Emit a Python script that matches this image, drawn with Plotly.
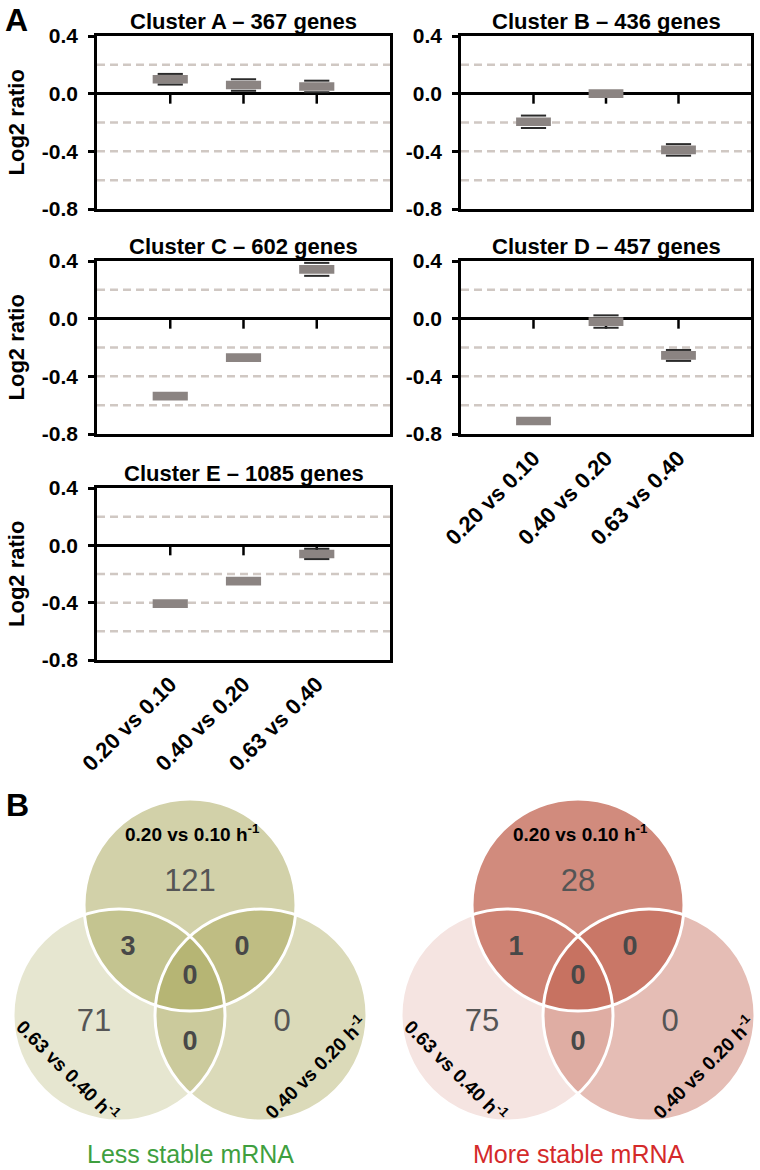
import plotly.graph_objects as go

W, H = 760, 1170
FONT = "Liberation Sans, Arial, Helvetica, sans-serif"

# ---------------- data ----------------
categories = ["0.20 vs 0.10", "0.40 vs 0.20", "0.63 vs 0.40"]
cluster_names = ["Cluster A", "Cluster B", "Cluster C", "Cluster D", "Cluster E"]
cluster_gene_counts = [367, 436, 602, 457, 1085]

cluster_a_mean = [0.10, 0.06, 0.05]
cluster_a_ci = [0.037, 0.040, 0.040]
cluster_b_mean = [-0.195, 0.0, -0.39]
cluster_b_ci = [0.043, 0.020, 0.040]
cluster_c_mean = [-0.537, -0.27, 0.342]
cluster_c_ci = [0.020, 0.020, 0.045]
cluster_d_mean = [-0.71, -0.02, -0.255]
cluster_d_ci = [0.020, 0.043, 0.038]
cluster_e_mean = [-0.407, -0.25, -0.06]
cluster_e_ci = [0.020, 0.020, 0.036]

y_tick_values = [-0.8, -0.4, 0.0, 0.4]
y_tick_labels = ["-0.8", "-0.4", "0.0", "0.4"]
grid_values = [0.2, -0.2, -0.4, -0.6]

venn_set_labels = ["0.20 vs 0.10 h<sup>-1</sup>", "0.63 vs 0.40 h<sup>-1</sup>", "0.40 vs 0.20 h<sup>-1</sup>"]
# regions: top only, top&left, top&right, all three, left only, left&right, right only
venn_region_is_overlap = [False, True, True, True, False, True, False]
less_stable_counts = [121, 3, 0, 0, 71, 0, 0]
more_stable_counts = [28, 1, 0, 0, 75, 0, 0]
venn_titles = ["Less stable mRNA", "More stable mRNA"]

# ---------------- styling / layout geometry (pixels) ----------------
BOX_HALF = 0.03
BOX_COLOR = "#8b8482"
CAP_COLOR = "#2b2b2b"
GRID_COLOR = "#d0c8c3"
LW = 2.5

col_x = [(97, 390), (461, 751)]
row_y = [(36, 209), (261, 434), (488, 660)]
panel_pos = [(0, 0), (0, 1), (1, 0), (1, 1), (2, 0)]
panel_show_x = [False, False, False, True, True]
means = [cluster_a_mean, cluster_b_mean, cluster_c_mean, cluster_d_mean, cluster_e_mean]
cis = [cluster_a_ci, cluster_b_ci, cluster_c_ci, cluster_d_ci, cluster_e_ci]


def fx(p):
    return p / W


def fy(p):
    return 1 - p / H


fig = go.Figure()
layout_axes = {}
shapes = []
annotations = []
xpos = list(range(1, len(categories) + 1))

for k in range(5):
    idx = k + 1
    xa = "x" if idx == 1 else f"x{idx}"
    ya = "y" if idx == 1 else f"y{idx}"
    r, c = panel_pos[k]
    mean, ci = means[k], cis[k]

    fig.add_trace(go.Bar(
        x=xpos, y=[2 * BOX_HALF] * len(mean), base=[m - BOX_HALF for m in mean],
        width=0.48, marker=dict(color=BOX_COLOR, line=dict(width=0)),
        xaxis=xa, yaxis=ya, showlegend=False, hoverinfo="skip"))

    cap_x, cap_y = [], []
    for x, m, e in zip(xpos, mean, ci):
        if e > BOX_HALF:
            cap_x += [x, x]
            cap_y += [m + e, m - e]
    if cap_x:
        fig.add_trace(go.Scatter(
            x=cap_x, y=cap_y, mode="markers",
            marker=dict(symbol="line-ew", size=18, line=dict(width=2, color=CAP_COLOR)),
            xaxis=xa, yaxis=ya, showlegend=False, hoverinfo="skip"))

    x0p, x1p = col_x[c]
    y0p, y1p = row_y[r]
    layout_axes["xaxis" if idx == 1 else f"xaxis{idx}"] = dict(
        domain=[fx(x0p), fx(x1p)], anchor=ya, range=[0, len(categories) + 1],
        showline=True, mirror=True, linecolor="black", linewidth=LW,
        ticks="", showgrid=False, zeroline=False, automargin=False,
        tickmode="array", tickvals=xpos, ticktext=categories, tickangle=-45,
        showticklabels=panel_show_x[k],
        tickfont=dict(family=FONT, size=22, color="black", weight="bold"),
        fixedrange=True)
    layout_axes["yaxis" if idx == 1 else f"yaxis{idx}"] = dict(
        domain=[fy(y1p), fy(y0p)], anchor=xa, range=[-0.8, 0.4],
        tickmode="array", tickvals=y_tick_values, ticktext=y_tick_labels,
        ticks="outside", ticklen=6, tickwidth=LW, tickcolor="black",
        showline=True, mirror=True, linecolor="black", linewidth=LW,
        showgrid=False, zeroline=True, zerolinecolor="black", zerolinewidth=LW,
        ticklabelstandoff=6, automargin=False,
        tickfont=dict(family=FONT, size=21, color="black", weight="bold"),
        fixedrange=True)

    for g in grid_values:
        shapes.append(dict(type="line", xref=f"{xa} domain", yref=ya, x0=0, x1=1, y0=g, y1=g,
                           line=dict(color=GRID_COLOR, width=LW, dash="8px,5px"), layer="below"))
    for x in xpos:
        shapes.append(dict(type="line", xref=xa, yref=ya, x0=x, x1=x, ysizemode="pixel",
                           yanchor=0, y0=0, y1=-10, line=dict(color="black", width=LW),
                           layer="between"))

    annotations.append(dict(text=f"{cluster_names[k]} \u2013 {cluster_gene_counts[k]} genes",
                            xref="paper", yref="paper", x=fx((x0p + x1p) / 2), y=fy(y0p - 15),
                            xanchor="center", yanchor="middle", showarrow=False,
                            font=dict(family=FONT, size=22, color="black", weight="bold")))
    if c == 0:
        annotations.append(dict(text="Log2 ratio", xref="paper", yref="paper",
                                x=fx(16), y=fy((y0p + y1p) / 2), textangle=-90,
                                xanchor="center", yanchor="middle", showarrow=False,
                                font=dict(family=FONT, size=22, color="black", weight="bold")))

annotations.append(dict(text="A", xref="paper", yref="paper", x=fx(16), y=fy(20),
                        xanchor="center", yanchor="middle", showarrow=False,
                        font=dict(family=FONT, size=32, color="black", weight="bold")))
annotations.append(dict(text="B", xref="paper", yref="paper", x=fx(17), y=fy(805),
                        xanchor="center", yanchor="middle", showarrow=False,
                        font=dict(family=FONT, size=32, color="black", weight="bold")))

# ---------------- Venn diagrams ----------------
VENN_TOP = 780
layout_axes["xaxis6"] = dict(domain=[0, 1], anchor="y6", range=[0, W], visible=False,
                             fixedrange=True, automargin=False)
layout_axes["yaxis6"] = dict(domain=[0, fy(VENN_TOP)], anchor="x6", range=[H, VENN_TOP],
                             visible=False, fixedrange=True, automargin=False)

venn_cx = [190, 578]
CY_TOP, CY_LOW, R, DX = 905, 1015, 106, 71
venn_fills = [
    ["rgba(160,157,72,0.47)", "rgba(160,157,72,0.26)", "rgba(160,157,72,0.38)"],
    ["rgba(190,90,70,0.70)", "rgba(190,90,70,0.16)", "rgba(190,90,70,0.40)"],
]
venn_title_colors = ["#3f9f3f", "#d42a2a"]
region_offsets = [(0, -22), (-62, 43), (52, 43), (0, 72), (-96, 118), (0, 138), (92, 118)]
set_label_pos = [(2, -72, 0), (-122, 165, 45), (125, 162, -45)]

for v, counts in enumerate([less_stable_counts, more_stable_counts]):
    cx = venn_cx[v]
    centers = [(cx, CY_TOP), (cx - DX, CY_LOW), (cx + DX, CY_LOW)]
    for (ccx, ccy), fill in zip(centers, venn_fills[v]):
        shapes.append(dict(type="circle", xref="x6", yref="y6", x0=ccx - R, x1=ccx + R,
                           y0=ccy - R, y1=ccy + R, fillcolor=fill, line=dict(width=0), layer="below"))
    for (ccx, ccy) in centers:
        shapes.append(dict(type="circle", xref="x6", yref="y6", x0=ccx - R, x1=ccx + R,
                           y0=ccy - R, y1=ccy + R, fillcolor="rgba(0,0,0,0)",
                           line=dict(width=3, color="white"), layer="below"))
    fig.add_trace(go.Scatter(
        x=[cx + o[0] for o in region_offsets], y=[CY_TOP + o[1] for o in region_offsets],
        mode="text",
        text=[f"<b>{n}</b>" if ov else str(n) for n, ov in zip(counts, venn_region_is_overlap)],
        textfont=dict(family=FONT, size=[27 if ov else 31 for ov in venn_region_is_overlap],
                      color=["#484848" if ov else "#555555" for ov in venn_region_is_overlap]),
        xaxis="x6", yaxis="y6", showlegend=False, hoverinfo="skip"))
    for label, (ox, oy, ang) in zip(venn_set_labels, set_label_pos):
        annotations.append(dict(text=label, xref="x6", yref="y6", x=cx + ox, y=CY_TOP + oy,
                                textangle=ang, xanchor="center", yanchor="middle", showarrow=False,
                                font=dict(family=FONT, size=19, color="black", weight="bold")))
    annotations.append(dict(text=venn_titles[v], xref="x6", yref="y6", x=cx, y=CY_TOP + 249,
                            xanchor="center", yanchor="middle", showarrow=False, borderpad=0,
                            font=dict(family=FONT, size=25, color=venn_title_colors[v])))

fig.update_layout(
    width=W, height=H, margin=dict(l=0, r=0, t=0, b=0, pad=0, autoexpand=False),
    paper_bgcolor="white", plot_bgcolor="white",
    showlegend=False, shapes=shapes, annotations=annotations,
    font=dict(family=FONT, color="black"),
    **layout_axes)

fig.write_html("out.html", config={"displayModeBar": False},
               post_script="document.documentElement.style.margin='0';"
                           "document.body.style.margin='0';document.body.style.overflow='hidden';")
